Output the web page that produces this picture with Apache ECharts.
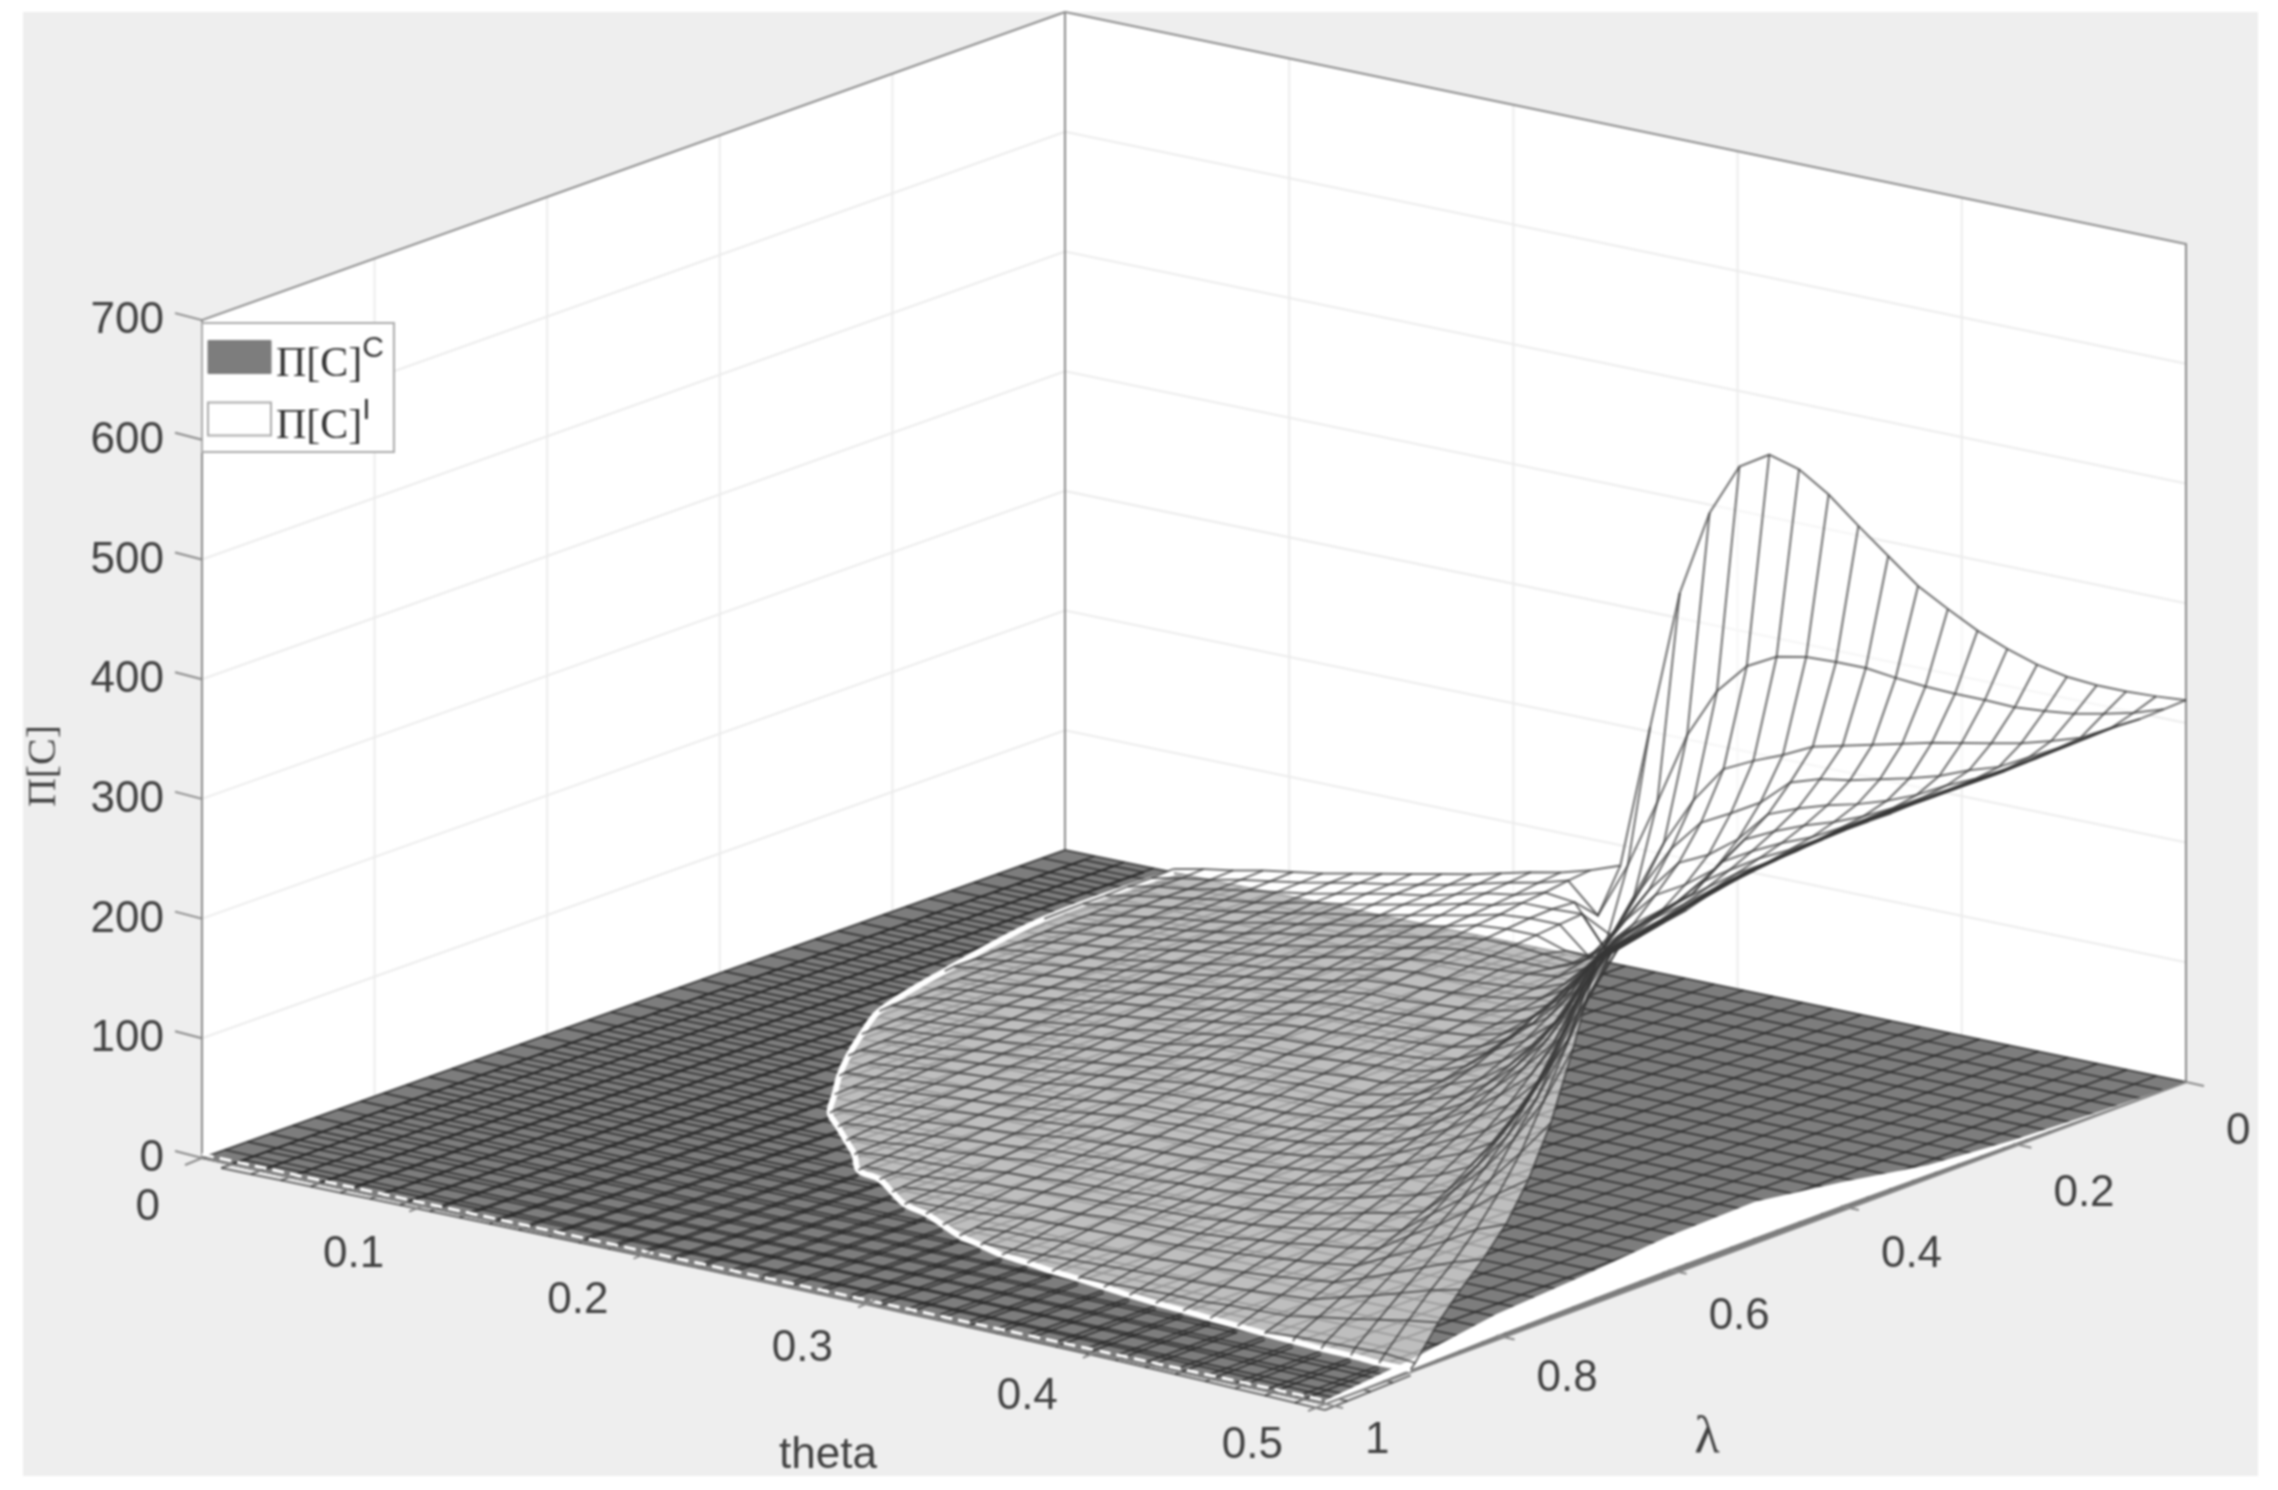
<!DOCTYPE html>
<html><head><meta charset="utf-8">
<style>html,body{margin:0;padding:0;background:#fff}#c{width:2278px;height:1490px;filter:blur(0.8px)}</style>
<script src="https://cdn.jsdelivr.net/npm/echarts@6/dist/echarts.min.js"></script>
</head><body><div id="c"></div>
<script>
const zTicks=[0,100,200,300,400,500,600,700];
const thetaTicks=[0,0.1,0.2,0.3,0.4,0.5];
const lambdaTicks=[0,0.2,0.4,0.6,0.8,1];
const thetaLines=[.5,.4867,.4734,.4602,.4469,.4336,.4203,.4070,.3938,.3805,.3672,.3539,.3406,.3274,.3141,.3008,.2875,.2742,.2610,.2477,.2344,.2211,.2078,.1946,.1813,.1680,.1547,.1414,.1282,.1149,.1016,.0883,.0750,.0618,.0485];
const lambdaLines=[0,.026,.053,.079,.105,.132,.158,.184,.21,.237,.263,.289,.316,.342,.368,.395,.421,.447,.474,.5,.526,.553,.579,.605,.632,.658,.684,.711,.737,.763,.789,.816,.842,.868,.895];
// lambda at which each theta line of the white surface meets the plane
const surfaceEnd=[.90,.902,.90,.90,.898,.896,.893,.89,.887,.884,.88,.875,.87,.866,.86,.855,.845,.835,.82,.805,.795,.775,.755,.745,.715,.69,.665,.64,.60,.56,.515,.465,.41,.30,.15];
// surface height, one row per theta line, one value per lambda line
const surfaceZ=[
[319,318,317,318,318,317,316,315,314,314,314,314,314,313,313,313,312,311,309,307,305,301,295,292,288,285,280,215,160,120,90,68,50,30,4],
[317,310,304,303,302,302,301,300,300,300,300,300,300,300,299,298,296,295,293,289,285,281,276,272,268,240,205,165,130,103,80,60,44,26,6],
[316,304,291,289,287,287,286,286,286,286,286,286,286,285,284,282,280,277,273,270,266,262,257,252,225,190,155,128,102,83,65,50,36,21,5],
[316,299,283,276,273,273,272,272,272,272,272,271,270,269,267,265,263,258,254,250,246,242,238,205,170,143,118,98,80,66,52,40,28,16,4],
[318,296,276,263,260,259,258,258,258,258,258,256,254,252,250,247,243,239,234,230,227,195,165,143,122,105,88,75,62,51,40,30,21,12,3],
[323,294,271,255,249,246,245,244,243,242,241,240,238,235,232,228,223,219,214,211,190,155,125,105,88,75,62,52,43,35,28,21,14,7,1],
[331,295,266,245,236,232,231,229,228,227,225,223,220,216,212,208,204,200,196,165,138,118,100,86,74,63,53,45,37,30,24,18,12,6],
[341,295,261,238,226,220,217,214,211,210,209,205,201,197,192,189,185,178,148,128,112,97,85,74,64,55,47,40,33,27,21,15,10,5],
[354,296,255,232,218,210,204,200,196,194,191,186,181,177,174,171,150,130,115,102,90,79,70,62,54,47,40,34,28,23,18,13,8,3],
[368,298,249,226,212,202,194,188,182,176,171,166,162,158,155,133,112,100,90,81,72,65,58,51,45,39,34,29,24,20,16,11,7,3],
[388,301,243,222,204,192,182,173,165,158,152,147,143,138,118,104,92,82,73,66,59,53,47,42,37,33,29,25,21,17,14,10,6,2],
[408,301,237,214,194,180,168,157,148,141,134,128,118,108,98,88,79,71,64,58,52,47,42,37,33,29,26,22,19,15,12,8,5,1],
[429,300,225,192,168,150,136,131,128,121,114,100,84,76,70,65,60,55,51,47,44,40,36,33,30,26,23,20,17,14,11,7,4,1],
[445,295,215,178,150,132,118,112,108,96,80,72,66,62,58,54,51,48,45,41,38,35,33,30,27,24,21,18,16,13,10,6,3],
[452,282,203,165,138,118,100,90,78,71,66,62,58,55,52,49,46,43,40,37,35,32,30,27,25,22,20,17,15,12,9,6,2],
[437,256,172,138,110,92,76,70,65,62,60,57,55,52,50,47,45,42,39,36,33,30,28,25,23,20,18,15,13,10,8,4,1],
[393,214,131,100,75,56,58,60,62,59,57,54,52,50,48,45,43,40,38,35,32,29,27,24,22,19,17,14,12,9,7,4,1],
[321,153,81,55,44,56,60,60,60,57,55,52,50,48,46,43,41,38,36,33,31,28,26,23,21,18,16,13,11,8,5,2],
[204,95,33,68,66,64,62,60,58,55,53,50,48,46,44,41,39,36,34,31,29,26,24,21,19,16,14,11,9,6,3],
[83,48,66,67,66,64,62,60,57,55,52,50,47,45,43,40,38,35,33,30,28,25,23,20,18,15,13,10,8,5,2],
[74,72,69,67,64,62,59,57,54,52,50,47,45,42,40,37,35,32,30,27,25,22,20,17,15,12,10,7,5,3,1],
[67,65,62,60,58,56,53,51,49,47,44,42,40,37,35,33,31,28,26,24,22,19,17,15,12,10,8,5,3,1],
[62,60,58,56,53,51,49,47,45,42,40,38,36,34,32,29,27,25,23,21,19,16,14,12,10,8,6,4,1],
[56,54,52,50,48,46,44,42,40,38,36,34,32,30,28,26,24,22,20,18,16,14,12,10,8,6,5,3,1],
[50,48,46,45,43,41,39,37,35,33,32,30,28,26,24,22,21,19,17,15,13,11,10,8,6,4,2,1],
[45,43,42,40,38,37,35,33,31,30,28,26,25,23,21,20,18,16,14,13,11,9,8,6,4,3,1],
[40,38,37,35,34,32,31,29,28,26,24,23,21,20,18,16,15,13,12,10,9,7,6,4,3,1],
[35,34,32,31,29,28,26,25,24,22,21,19,18,16,15,13,12,10,9,8,7,5,4,2,1],
[30,29,27,26,25,23,22,21,20,18,17,15,14,13,12,10,9,8,6,5,4,2,1],
[25,24,23,21,20,19,18,17,16,14,13,12,11,10,9,7,6,5,4,3,2,1],
[21,20,19,18,17,16,15,14,12,11,10,9,8,7,6,5,4,3,2,1],
[17,16,15,14,13,12,11,10,9,8,7,6,5,5,4,3,2,1],
[12,11,10,10,9,8,7,7,6,5,4,4,3,2,1,1],
[8,7,7,6,5,4,4,3,2,2,1,1],
[3,2,2,1,1]];
// raised edge of the dark plane along theta = 0.5
const planeEdgeLambda=[0,.1,.2,.3,.4,.5,.6,.7,.8,.9,1];
const planeEdgeZ=[0,1,3,8,20,30,28,22,18,8,3];
const seriesC='Π[C]^C', seriesI='Π[C]^I';

const A=[202,1158],B=[1065,850],C=[2186,1082],DD=[2,14],ZS=1.197;
function proj(api,t,l,z){const u=t*2,c=Math.pow(u*l,3);
 return api.coord([B[0]+u*(C[0]-B[0])+l*(A[0]-B[0])+c*DD[0], B[1]+u*(C[1]-B[1])+l*(A[1]-B[1])+c*DD[1]-(z||0)*ZS]);}
const line=(pts,stroke,w,extra,smooth)=>({type:'polyline',shape:{points:pts,smooth:smooth||0},style:Object.assign({stroke,lineWidth:w,fill:null},extra||{})});
const poly=(pts,fill,op)=>({type:'polygon',shape:{points:pts},style:{fill,opacity:op==null?1:op,stroke:null}});
const text=(s,x,y,font,align,fill,rot)=>({type:'text',x,y,rotation:rot||0,style:{text:s,x:0,y:0,font,align,verticalAlign:'middle',fill:fill||'#404040'}});
const N=38, frac=i=>i/N;

function frameItem(p,api){
 const P=(t,l,z)=>proj(api,t,l,z), ch=[];
 ch.push({type:'rect',shape:{x:api.coord([23,0])[0],y:api.coord([0,12])[1],width:2235,height:1464},style:{fill:'#eeeeee'}});
 ch.push(poly([P(0,1,0),P(0,0,0),P(0,0,700),P(0,1,700)],'#fff'));
 ch.push(poly([P(0,0,0),P(.5,0,0),P(.5,0,700),P(0,0,700)],'#fff'));
 const g='#ececec';
 zTicks.slice(1,-1).forEach(z=>{ch.push(line([P(0,1,z),P(0,0,z),P(.5,0,z)],g,2));});
 lambdaTicks.slice(1,-1).forEach(l=>ch.push(line([P(0,l,0),P(0,l,700)],g,2)));
 thetaTicks.slice(1,-1).forEach(t=>ch.push(line([P(t,0,0),P(t,0,700)],g,2)));
 const e='#8a8a8a';
 ch.push(line([P(0,1,0),P(0,1,700),P(0,0,700),P(.5,0,700),P(.5,0,0)],e,2));
 ch.push(line([P(0,0,0),P(0,0,700)],e,2));
 return {type:'group',children:ch};
}
function planeItem(p,api){
 const P=(t,l,z)=>proj(api,t,l,z), ch=[];
 ch.push(poly([P(0,0,0),P(.5,0,0),P(.5,1,0),P(0,1,0)],'#7d7d7d'));
 // surface part lying just under the plane shows through it
 const U=-5, uc='rgba(20,20,20,0.6)';
 const allTheta=thetaLines.concat([.0352,.0219,.0086]);
 allTheta.forEach((t,k)=>{const s=k<surfaceEnd.length?surfaceEnd[k]:0;ch.push(line([P(t,s,U),P(t,1,U)],uc,2));});
 lambdaLines.concat([.921,.947,.974,1]).forEach(l=>{const pts=[];allTheta.forEach((t,k)=>{if(k>=surfaceEnd.length||surfaceEnd[k]<l)pts.push(P(t,l,U));});
   if(pts.length>1)ch.push(line(pts,uc,2));});
 const pc='rgba(40,40,40,0.75)';
 for(let i=0;i<=N;i++){ch.push(line([P(frac(i)/2,0,0),P(frac(i)/2,1,0)],pc,2));ch.push(line([P(0,frac(i),0),P(.5,frac(i),0)],pc,2));}
 // white gaps where the plane rises off the floor
 const gap=[];planeEdgeLambda.forEach(l=>gap.push(P(.5,l,0)));
 for(let i=planeEdgeLambda.length-1;i>=0;i--)gap.push(P(.5,planeEdgeLambda[i],planeEdgeZ[i]));
 ch.push(poly(gap,'#fff'));
 ch.push(line([P(0,1,3),P(.5,1,3)],'#fff',3,{lineDash:[12,6]}));
 const e='#8a8a8a';
 ch.push(line([P(0,1,0),P(.5,1,0),P(.5,0,0)],e,2));
 return {type:'group',children:ch};
}
function surfaceItem(p,api){
 const P=(t,l,z)=>proj(api,t,l,z), ch=[];
 const cols=thetaLines.map((t,k)=>{const pts=surfaceZ[k].map((z,i)=>P(t,lambdaLines[i],z));pts.push(P(t,surfaceEnd[k],0));return pts;});
 for(let k=0;k<cols.length-1;k++)ch.push(poly(cols[k].concat(cols[k+1].slice().reverse()),'#fff',0.5));
 const rim=thetaLines.map((t,k)=>P(t,surfaceEnd[k],0));rim.push(P(thetaLines[thetaLines.length-1],0,0));
 ch.push(line(rim,'#fff',6,null,0.35));
 const c='rgba(55,55,55,0.72)';
 cols.forEach(pts=>ch.push(line(pts,c,2)));
 lambdaLines.forEach((l,j)=>{const pts=[];for(let k=0;k<cols.length;k++){if(surfaceZ[k].length>j)pts.push(cols[k][j]);else break;}
   if(pts.length>1)ch.push(line(pts,c,2));});
 return {type:'group',children:ch};
}
function labelItem(p,api){
 const P=(t,l,z)=>proj(api,t,l,z), ch=[], tc='#8a8a8a', f='44px "Liberation Sans"';
 zTicks.forEach(z=>{const a=P(0,1,z);ch.push(line([a,[a[0]-27,a[1]-7]],tc,2));ch.push(text(String(z),a[0]-38,a[1]+1,f,'right'));});
 thetaTicks.forEach(t=>{const a=P(t,1,0);ch.push(line([a,[a[0]-17,a[1]+7]],tc,2));ch.push(text(String(t),a[0]-42,a[1]+50-8*Math.pow(t*2,3),f,'right'));});
 lambdaTicks.forEach(l=>{const a=P(.5,l,0);ch.push(line([a,[a[0]+18,a[1]+4]],tc,2));ch.push(text(String(l),a[0]+40,a[1]+50-13*Math.pow(l,3),f,'left'));});
 const c=(x,y)=>api.coord([x,y]);
 let q=c(828,1456);ch.push(text('theta',q[0],q[1],f,'center','#404040'));
 q=c(1707,1438);ch.push(text('λ',q[0],q[1],'52px "Liberation Serif"','center','#404040'));
 q=c(44,766);ch.push(text('Π[C]',q[0],q[1],'40px "Liberation Serif"','center','#404040',Math.PI/2));
 return {type:'group',children:ch};
}
const base={type:'custom',coordinateSystem:'cartesian2d',data:[[0,0]],silent:true,clip:false,animation:false};
const chart=echarts.init(document.getElementById('c'),null,{renderer:'canvas'});
chart.setOption({
 animation:false,backgroundColor:'#fff',
 grid:{left:0,right:0,top:0,bottom:0},
 xAxis:{type:'value',min:0,max:2278,show:false},
 yAxis:{type:'value',min:0,max:1490,inverse:true,show:false},
 legend:{show:true,left:202,top:323,orient:'vertical',padding:[5,10,4,5],itemGap:4,itemWidth:63,itemHeight:33,
  backgroundColor:'#fff',borderColor:'#aaa',borderWidth:2,borderRadius:0,selectedMode:false,
  data:[{name:seriesC,icon:'rect',itemStyle:{color:'#7d7d7d',borderColor:'#7d7d7d',borderWidth:1}},
        {name:seriesI,icon:'rect',itemStyle:{color:'#fff',borderColor:'#aaa',borderWidth:2}}],
  formatter:n=>n===seriesC?'{a|Π[C]}{b|C}':'{a|Π[C]}{c|I}',
  textStyle:{rich:{a:{fontFamily:'Liberation Serif',fontSize:42,color:'#333',lineHeight:58,verticalAlign:'bottom'},
   b:{fontFamily:'Liberation Sans',fontSize:30,color:'#333',lineHeight:46,verticalAlign:'top',padding:[6,0,0,0]},c:{fontFamily:'Liberation Sans',fontSize:30,color:'#333',lineHeight:46,verticalAlign:'top',padding:[6,0,0,0]}}}},
 series:[
  Object.assign({},base,{name:'frame',z:1,renderItem:frameItem}),
  Object.assign({},base,{name:seriesC,z:2,renderItem:planeItem,itemStyle:{color:'#7d7d7d'}}),
  Object.assign({},base,{name:seriesI,z:3,renderItem:surfaceItem,itemStyle:{color:'#fff'}}),
  Object.assign({},base,{name:'labels',z:4,renderItem:labelItem})
 ]});
</script></body></html>
